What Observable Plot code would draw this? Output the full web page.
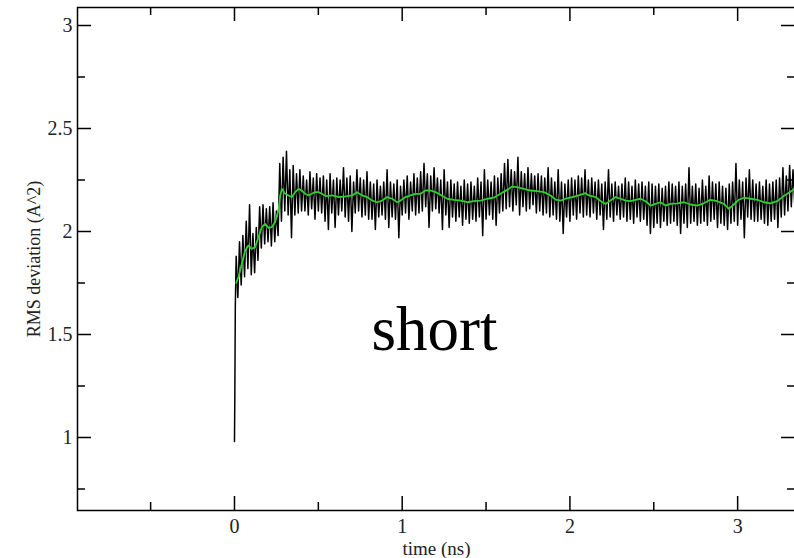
<!DOCTYPE html>
<html>
<head>
<meta charset="utf-8">
<script src="https://cdn.jsdelivr.net/npm/d3@7"></script>
<script src="https://cdn.jsdelivr.net/npm/@observablehq/plot@0.6"></script>
<style>
  html, body { margin: 0; padding: 0; background: #fff; overflow: hidden; }
  #chart svg { display: block; }
</style>
</head>
<body>
<div id="chart"></div>
<script>
// ---- data ----
// initial jump at t = 0
const startTime = [0, 0.002, 0.005];
const startRmsd = [0.98, 1.19, 1.64];

// raw RMSD, sampled every 0.01 ns starting at t = 0.01 ns
const rawStep = 0.01;
const rawRmsd = [
  1.88,1.68,1.95,1.74,1.98,1.78,2.05,1.82,2.13,1.79,
  1.99,1.80,2.02,1.86,2.12,1.92,2.13,1.94,2.11,1.95,
  2.12,1.93,2.14,1.95,2.10,1.98,2.33,2.05,2.36,2.10,
  2.39,2.08,2.30,1.97,2.32,2.08,2.28,2.09,2.30,2.10,
  2.27,2.10,2.25,2.08,2.29,2.11,2.26,2.06,2.28,2.10,
  2.26,2.09,2.27,2.05,2.25,2.01,2.28,2.09,2.25,2.02,
  2.26,2.08,2.25,2.10,2.31,2.07,2.26,2.05,2.27,2.00,
  2.24,2.09,2.30,2.10,2.26,2.07,2.25,2.08,2.29,2.06,
  2.24,2.06,2.23,2.01,2.25,2.07,2.22,2.08,2.24,2.06,
  2.30,2.02,2.24,2.07,2.23,2.06,2.25,1.97,2.22,2.08,
  2.25,2.09,2.27,2.06,2.24,2.10,2.28,2.08,2.26,2.09,
  2.29,2.10,2.33,2.12,2.28,2.02,2.27,2.10,2.31,2.11,
  2.26,2.09,2.25,2.01,2.30,2.08,2.24,2.02,2.25,2.07,
  2.23,2.05,2.24,2.07,2.22,2.03,2.25,2.06,2.23,2.04,
  2.24,2.06,2.22,2.05,2.26,2.07,2.24,1.98,2.30,2.06,
  2.25,2.08,2.24,2.06,2.27,2.03,2.26,2.09,2.28,2.10,
  2.33,2.11,2.35,2.12,2.30,2.10,2.29,2.13,2.36,2.08,
  2.29,2.12,2.28,2.10,2.31,2.11,2.28,2.13,2.27,2.09,
  2.28,2.10,2.27,2.08,2.26,2.09,2.31,2.07,2.26,2.08,
  2.24,2.06,2.30,2.05,2.24,1.99,2.23,2.07,2.25,2.05,
  2.26,2.08,2.25,2.06,2.27,2.09,2.26,2.07,2.30,2.08,
  2.25,2.07,2.26,2.09,2.24,2.06,2.25,2.08,2.23,2.01,
  2.24,2.06,2.30,2.07,2.23,2.05,2.24,2.08,2.22,2.06,
  2.23,2.07,2.26,2.05,2.24,2.06,2.22,2.04,2.25,2.07,
  2.23,2.05,2.24,2.06,2.22,2.03,2.24,1.99,2.23,2.02,
  2.22,2.04,2.23,2.02,2.21,2.05,2.22,2.03,2.24,2.04,
  2.23,2.05,2.22,2.03,2.24,1.99,2.22,2.04,2.23,2.02,
  2.31,2.04,2.22,2.05,2.23,2.03,2.21,2.04,2.25,2.05,
  2.22,2.03,2.27,2.05,2.24,2.06,2.23,2.02,2.24,2.04,
  2.22,2.03,2.21,2.01,2.23,2.04,2.24,2.05,2.33,2.03,
  2.25,2.06,2.24,1.97,2.26,2.07,2.30,2.06,2.25,2.05,
  2.23,2.05,2.24,2.06,2.22,2.04,2.25,2.03,2.23,2.05,
  2.24,2.06,2.25,2.02,2.26,2.07,2.31,2.08,2.27,2.10,
  2.32,2.12,2.30,2.14
];

// running average (green curve)
const smoothTime = [
  0.010,0.024,0.044,0.064,0.083,0.103,0.123,0.143,0.163,0.183,
  0.203,0.222,0.242,0.262,0.272,0.282,0.302,0.322,0.342,0.362,
  0.382,0.401,0.421,0.441,0.461,0.481,0.501,0.521,0.543,0.582,
  0.622,0.662,0.702,0.731,0.761,0.791,0.821,0.851,0.881,0.910,
  0.940,0.970,0.990,1.020,1.049,1.079,1.109,1.139,1.169,1.199,
  1.228,1.268,1.308,1.348,1.388,1.427,1.467,1.507,1.546,1.586,
  1.626,1.656,1.686,1.725,1.765,1.805,1.845,1.884,1.914,1.944,
  1.974,2.014,2.053,2.093,2.113,2.153,2.193,2.212,2.242,2.272,
  2.302,2.332,2.361,2.391,2.421,2.451,2.481,2.510,2.540,2.570,
  2.600,2.640,2.679,2.719,2.759,2.798,2.838,2.878,2.918,2.948,
  2.977,3.007,3.037,3.077,3.117,3.156,3.196,3.236,3.266,3.296,
  3.326,3.345
];
const smoothRmsd = [
  1.750,1.780,1.843,1.908,1.932,1.916,1.924,1.972,2.021,2.037,
  2.018,2.021,2.045,2.102,2.167,2.207,2.183,2.175,2.167,2.191,
  2.207,2.199,2.183,2.175,2.183,2.191,2.191,2.183,2.172,2.175,
  2.167,2.170,2.175,2.191,2.175,2.167,2.150,2.142,2.150,2.167,
  2.159,2.142,2.150,2.167,2.175,2.183,2.183,2.199,2.199,2.191,
  2.178,2.159,2.154,2.150,2.142,2.147,2.150,2.159,2.164,2.183,
  2.202,2.218,2.215,2.207,2.199,2.196,2.191,2.175,2.155,2.150,
  2.159,2.167,2.175,2.186,2.175,2.167,2.142,2.134,2.150,2.167,
  2.159,2.150,2.147,2.154,2.159,2.147,2.126,2.134,2.142,2.126,
  2.134,2.137,2.142,2.131,2.126,2.137,2.154,2.147,2.134,2.110,
  2.131,2.154,2.164,2.159,2.154,2.142,2.137,2.147,2.167,2.183,
  2.199,2.215
];

// axes
const xDomain = [-0.936, 3.345];
const yDomain = [0.6456, 3.0874];
const xMajor = [0, 1, 2, 3];
const xMinor = [-0.5, 0.5, 1.5, 2.5];
const yMajor = [1, 1.5, 2, 2.5, 3];
const yMinor = [0.75, 1.25, 1.75, 2.25, 2.75];
const xLabel = "time (ns)";
const yLabel = "RMS deviation (A^2)";
const annotation = "short";

// ---- build tables ----
const raw = startTime.map((t, i) => ({t, v: startRmsd[i]}))
  .concat(rawRmsd.map((v, i) => ({t: rawStep * (i + 1), v})));
const smooth = smoothTime.map((t, i) => ({t, v: smoothRmsd[i]}));

const W = 794, H = 558;
const mL = 77, mR = -1, mT = 7, mB = 48;
const plotW = W - mL - mR, plotH = H - mT - mB;
const serif = "'Liberation Serif', 'Times New Roman', serif";
const majorLen = 14, minorLen = 8;

const chart = Plot.plot({
  width: W, height: H,
  marginLeft: mL, marginRight: mR, marginTop: mT, marginBottom: mB,
  style: {background: "#fff", fontFamily: serif},
  x: {domain: xDomain, axis: null},
  y: {domain: yDomain, axis: null},
  marks: [
    Plot.line(raw, {x: "t", y: "v", stroke: "#000", strokeWidth: 1.5, clip: true}),
    Plot.line(smooth, {x: "t", y: "v", stroke: "#2fd12f", strokeWidth: 1.8, clip: true}),
    // ticks, pointing inward on all four sides
    Plot.ruleX(xMajor, {x: d => d, insetTop: plotH - majorLen, stroke: "#000", strokeWidth: 1.5}),
    Plot.ruleX(xMinor, {x: d => d, insetTop: plotH - minorLen, stroke: "#000", strokeWidth: 1.5}),
    Plot.ruleX(xMajor, {x: d => d, insetBottom: plotH - majorLen, stroke: "#000", strokeWidth: 1.5}),
    Plot.ruleX(xMinor, {x: d => d, insetBottom: plotH - minorLen, stroke: "#000", strokeWidth: 1.5}),
    Plot.ruleY(yMajor, {y: d => d, insetRight: plotW - majorLen, stroke: "#000", strokeWidth: 1.5}),
    Plot.ruleY(yMinor, {y: d => d, insetRight: plotW - minorLen, stroke: "#000", strokeWidth: 1.5}),
    Plot.ruleY(yMajor, {y: d => d, insetLeft: plotW - majorLen, stroke: "#000", strokeWidth: 1.5}),
    Plot.ruleY(yMinor, {y: d => d, insetLeft: plotW - minorLen, stroke: "#000", strokeWidth: 1.5}),
    Plot.frame({stroke: "#000", strokeWidth: 1.5}),
    // tick labels
    Plot.text(xMajor, {x: d => d, text: d => String(d), frameAnchor: "bottom", dy: 16,
      fontSize: 20, fill: "#222", lineAnchor: "middle"}),
    Plot.text(yMajor, {y: d => d, text: d => String(d), frameAnchor: "left", dx: -5,
      textAnchor: "end", fontSize: 20, fill: "#222", lineAnchor: "middle"}),
    // axis titles
    Plot.text([xLabel], {frameAnchor: "bottom", dy: 38, fontSize: 19, fill: "#222",
      textAnchor: "middle", lineAnchor: "middle"}),
    Plot.text([yLabel], {frameAnchor: "left", dx: -43, rotate: -90, fontSize: 18, fill: "#222",
      textAnchor: "middle", lineAnchor: "middle"}),
    // annotation
    Plot.text([annotation], {frameAnchor: "middle", dx: -2, dy: 71, fontSize: 63, fill: "#000",
      textAnchor: "middle", lineAnchor: "middle"})
  ]
});
document.getElementById("chart").appendChild(chart);
</script>
</body>
</html>
